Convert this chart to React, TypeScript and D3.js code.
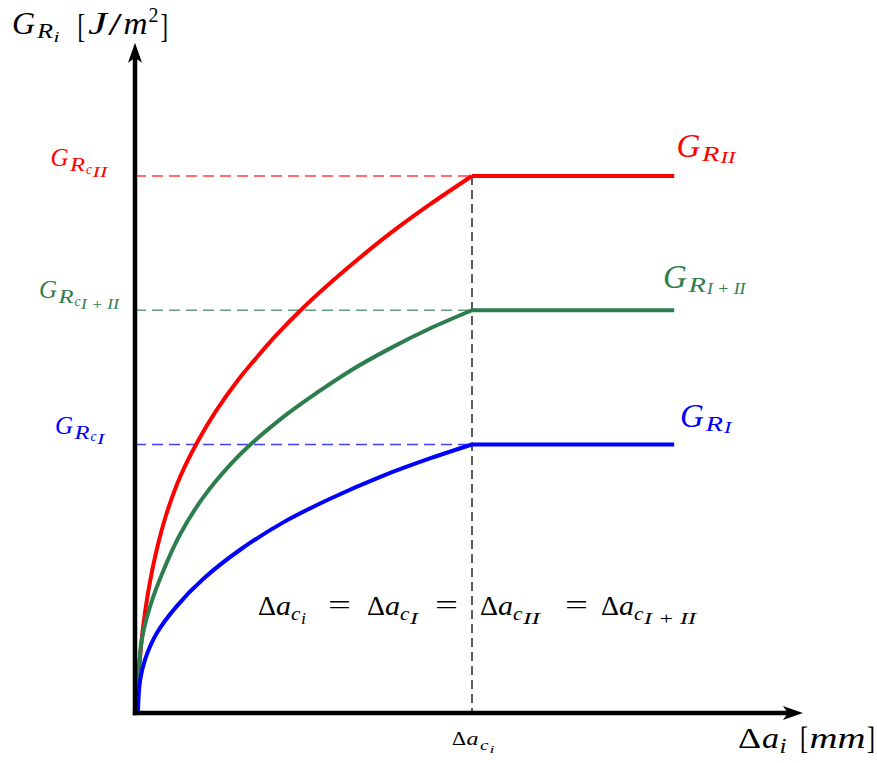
import React from "react";
import * as d3 from "d3";

// ---- data (abstract units: x = Δa / Δa_c , y = G / G_Rc,II) ----
const xCrit = 1.0;
const xPlateauEnd = 1.6;
const xAxisEnd = 1.982;
const yAxisEnd = 1.248;

const levelNames = ["II", "I + II", "I"];
const levelValues = [1.0, 0.75, 0.5];
const levelColors = ["#ff0000", "#2e7d4e", "#0000ff"];

const curveII: [number, number][] = [
  [0, 0], [0.007, 0.024], [0.013, 0.086], [0.023, 0.155], [0.04, 0.229],
  [0.064, 0.303], [0.094, 0.372], [0.134, 0.44], [0.188, 0.508],
  [0.242, 0.564], [0.302, 0.617], [0.361, 0.662], [0.42, 0.704],
  [0.49, 0.749], [0.569, 0.795], [0.658, 0.843], [0.757, 0.893],
  [0.875, 0.947], [1.0, 1.0],
];
const curveIII: [number, number][] = [
  [0, 0], [0.004, 0.03], [0.01, 0.075], [0.02, 0.136], [0.0445, 0.198],
  [0.084, 0.265], [0.134, 0.333], [0.203, 0.402], [0.282, 0.462],
  [0.341, 0.499], [0.45, 0.556], [0.539, 0.596], [0.638, 0.637],
  [0.757, 0.679], [0.875, 0.716], [1.0, 0.75],
];
const curveI: [number, number][] = [
  [0.009, 0], [0.0095, 0.015], [0.015, 0.06], [0.03, 0.1],
  [0.064, 0.148], [0.124, 0.199], [0.203, 0.25], [0.312, 0.304],
  [0.44, 0.355], [0.579, 0.399], [0.737, 0.442], [0.875, 0.474], [1.0, 0.5],
];
const curves = [curveII, curveIII, curveI];

const FONT = "Liberation Serif";

type Piece = { t: string; x: number; w?: number; y: number; fs: number; it?: boolean };

function Label({ pieces, fill }: { pieces: Piece[]; fill: string }) {
  return (
    <g fill={fill} fontFamily={FONT}>
      {pieces.map((p, i) => (
        <text
          key={i}
          x={p.x}
          y={p.y}
          fontSize={p.fs}
          fontStyle={p.it === false ? "normal" : "italic"}
          textLength={p.w}
          lengthAdjust={p.w ? "spacingAndGlyphs" : undefined}
          style={{ whiteSpace: "pre" }}
        >
          {p.t}
        </text>
      ))}
    </g>
  );
}

export default function App() {
  const W = 877, H = 763;
  const x = d3.scaleLinear().domain([0, 1]).range([135, 472]);
  const y = d3.scaleLinear().domain([0, 1]).range([713, 176]);
  const line = d3
    .line<[number, number]>()
    .x((d) => x(d[0]))
    .y((d) => y(d[1]))
    .curve(d3.curveCatmullRom.alpha(0.5));

  const ox = x(0), oy = y(0);
  const xEnd = x(xAxisEnd), yEnd = y(yAxisEnd);

  // left (critical) labels: G_{R_{c_{sub}}}
  const leftLayout = [
    { gx: 50.5, gy: 166, subW: 15 },
    { gx: 39, gy: 298, subW: 38 },
    { gx: 55, gy: 433.5, subW: 7.5 },
  ];
  const leftPieces = (i: number): Piece[] => {
    const L = leftLayout[i];
    return [
      { t: "G", x: L.gx, y: L.gy, fs: 25 },
      { t: "R", x: L.gx + 19.5, w: 15, y: L.gy + 5, fs: 18 },
      { t: "c", x: L.gx + 35.5, w: 6, y: L.gy + 7.5, fs: 14 },
      { t: levelNames[i], x: L.gx + 42, w: L.subW, y: L.gy + 10.5, fs: 14 },
    ];
  };

  const rightLayout = [
    { gx: 676.5, gy: 156.5, subW: 15 },
    { gx: 663, gy: 287.5, subW: 38.5 },
    { gx: 680, gy: 426.5, subW: 7.5 },
  ];
  const rightPieces = (i: number): Piece[] => {
    const L = rightLayout[i];
    return [
      { t: "G", x: L.gx, y: L.gy, fs: 33 },
      { t: "R", x: L.gx + 25.5, w: 17.5, y: L.gy + 4.5, fs: 22 },
      { t: levelNames[i], x: L.gx + 44, w: L.subW, y: L.gy + 6.5, fs: 17 },
    ];
  };

  // Δa_c groups of the equation
  const eqSubs = ["i", "I", "II", "I + II"];
  const eqSubW = [5, 8, 17, 52];
  const eqStarts = [258, 367, 480, 601];
  const eqEquals = [328, 435, 565];
  const eqY = 615;
  const eqPieces: Piece[] = [];
  eqSubs.forEach((s, i) => {
    const x0 = eqStarts[i];
    eqPieces.push({ t: "Δ", x: x0, w: 18, y: eqY, fs: 27, it: false });
    eqPieces.push({ t: "a", x: x0 + 18, w: 15, y: eqY, fs: 27 });
    eqPieces.push({ t: "c", x: x0 + 33, w: 9.5, y: eqY + 5, fs: 19 });
    eqPieces.push({ t: s, x: x0 + 43, w: eqSubW[i], y: eqY + 9, fs: 17 });
  });
  eqEquals.forEach((ex) => {
    eqPieces.push({ t: "=", x: ex, w: 23, y: eqY - 1, fs: 27, it: false });
  });

  const tickPieces: Piece[] = [
    { t: "Δ", x: 452, w: 14, y: 745, fs: 19, it: false },
    { t: "a", x: 466.5, w: 12, y: 745, fs: 19 },
    { t: "c", x: 480, w: 8.5, y: 749.5, fs: 14 },
    { t: "i", x: 489.5, w: 5, y: 752.5, fs: 11 },
  ];

  const xLabelPieces: Piece[] = [
    { t: "Δ", x: 738, w: 23, y: 748, fs: 30, it: false },
    { t: "a", x: 762, w: 17, y: 748, fs: 30 },
    { t: "i", x: 779.5, w: 7, y: 752.5, fs: 20 },
    { t: "[", x: 800, w: 8, y: 749, fs: 32, it: false },
    { t: "mm", x: 809.5, w: 56, y: 748, fs: 30 },
    { t: "]", x: 867, w: 8, y: 749, fs: 32, it: false },
  ];

  const yLabelPieces: Piece[] = [
    { t: "G", x: 12, y: 34, fs: 32 },
    { t: "R", x: 37, w: 16, y: 38, fs: 21 },
    { t: "i", x: 53.5, w: 6, y: 42, fs: 15 },
    { t: "[", x: 77.5, w: 7.5, y: 37, fs: 33, it: false },
    { t: "J", x: 88, w: 19, y: 34, fs: 32 },
    { t: "/", x: 108, w: 14, y: 35, fs: 32, it: false },
    { t: "m", x: 123.5, w: 24, y: 34, fs: 32 },
    { t: "2", x: 148.5, w: 10, y: 21.5, fs: 21, it: false },
    { t: "]", x: 160.5, w: 7.5, y: 37, fs: 33, it: false },
  ];

  return (
    <svg width={W} height={H} viewBox={`0 0 ${W} ${H}`} style={{ position: "absolute", left: 0, top: 0, background: "#fff" }}>
      <rect width={W} height={H} fill="#fff" />
      {/* dashed guides */}
      {levelValues.map((v, i) => (
        <line key={"h" + i} x1={ox} x2={x(xCrit)} y1={y(v)} y2={y(v)} stroke={levelColors[i]} strokeWidth={1.3} strokeDasharray="11 6" opacity={0.75} />
      ))}
      <line x1={x(xCrit)} x2={x(xCrit)} y1={y(levelValues[0])} y2={oy} stroke="#333" strokeWidth={1.6} strokeDasharray="9 5" />

      {/* curves */}
      {curves.map((c, i) => (
        <path key={"c" + i} d={line(c) || ""} fill="none" stroke={levelColors[i]} strokeWidth={4} />
      ))}
      {levelValues.map((v, i) => (
        <line key={"p" + i} x1={x(xCrit)} x2={x(xPlateauEnd)} y1={y(v)} y2={y(v)} stroke={levelColors[i]} strokeWidth={4} />
      ))}

      {/* axes */}
      <line x1={ox} x2={ox} y1={oy + 2.2} y2={yEnd + 12} stroke="#000" strokeWidth={4.5} />
      <line x1={ox - 2.2} x2={xEnd - 12} y1={oy} y2={oy} stroke="#000" strokeWidth={4.5} />
      <path d={`M${ox},${yEnd} L${ox - 7},${yEnd + 20} L${ox},${yEnd + 15} L${ox + 7},${yEnd + 20} Z`} fill="#000" />
      <path d={`M${xEnd},${oy} L${xEnd - 20},${oy - 7} L${xEnd - 15},${oy} L${xEnd - 20},${oy + 7} Z`} fill="#000" />

      {/* labels */}
      {levelNames.map((n, i) => (
        <Label key={"l" + n} pieces={leftPieces(i)} fill={levelColors[i]} />
      ))}
      {levelNames.map((n, i) => (
        <Label key={"r" + n} pieces={rightPieces(i)} fill={levelColors[i]} />
      ))}
      <Label pieces={eqPieces} fill="#000" />
      <Label pieces={tickPieces} fill="#000" />
      <Label pieces={xLabelPieces} fill="#000" />
      <Label pieces={yLabelPieces} fill="#000" />
    </svg>
  );
}
